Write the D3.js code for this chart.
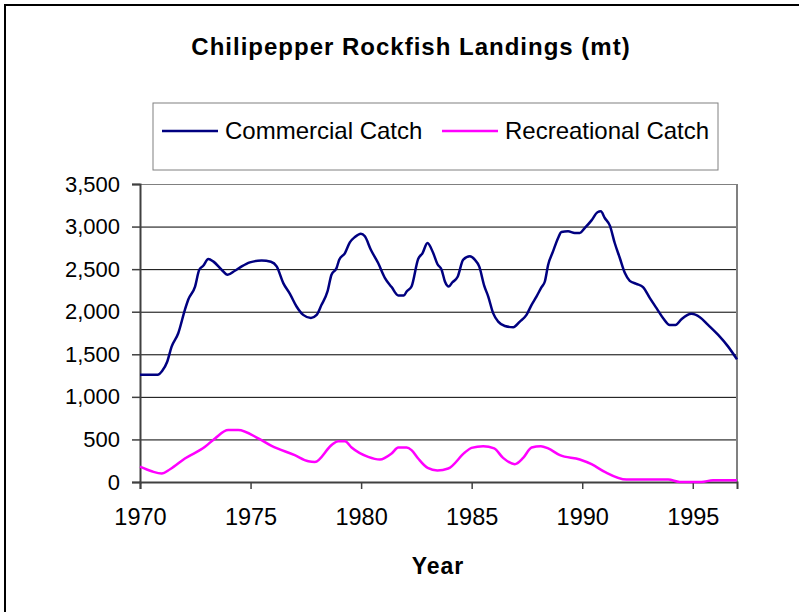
<!DOCTYPE html>
<html>
<head>
<meta charset="utf-8">
<script src="https://cdn.jsdelivr.net/npm/d3@7"></script>
<style>
  body { margin: 0; background: #fff; }
  text { font-family: 'Liberation Sans', Arial, sans-serif; }
</style>
</head>
<body>
<div id="chart"></div>
<script>
// values (metric tons)
const comYears = [1970, 1970.8, 1971.0, 1971.23, 1971.43, 1971.73, 1972.03, 1972.18, 1972.49, 1972.68,
  1972.86, 1973.09, 1973.31, 1973.69, 1973.96, 1974.29, 1974.6, 1974.97, 1975.5, 1975.92,
  1976.18, 1976.48, 1976.78, 1977.08, 1977.38, 1977.73, 1977.99, 1978.21, 1978.48, 1978.66,
  1978.89, 1979.01, 1979.27, 1979.49, 1979.72, 1979.99, 1980.17, 1980.44, 1980.77, 1981.08,
  1981.38, 1981.68, 1981.93, 1982.06, 1982.28, 1982.58, 1982.78, 1983.0, 1983.26, 1983.45,
  1983.64, 1983.79, 1983.97, 1984.12, 1984.36, 1984.62, 1984.92, 1985.14, 1985.34, 1985.57,
  1985.75, 1985.97, 1986.2, 1986.5, 1986.88, 1987.18, 1987.48, 1987.71, 1987.93, 1988.16,
  1988.31, 1988.46, 1988.68, 1988.91, 1989.06, 1989.36, 1989.66, 1989.89, 1990.12, 1990.42,
  1990.69, 1990.84, 1991.02, 1991.25, 1991.47, 1991.7, 1991.93, 1992.15, 1992.45, 1992.75,
  1993.06, 1993.36, 1993.66, 1993.96, 1994.22, 1994.49, 1994.94, 1995.32, 1995.69, 1996.15,
  1996.6, 1997]
const comCatch = [1260, 1260, 1304, 1413, 1590, 1747, 2022, 2140, 2296, 2493,
  2540, 2619, 2591, 2493, 2434, 2481, 2532, 2579, 2602, 2587,
  2532, 2336, 2210, 2061, 1963, 1927, 1963, 2081, 2238, 2434,
  2513, 2611, 2689, 2814, 2878, 2917, 2885, 2728, 2572, 2395,
  2289, 2190, 2190, 2238, 2296, 2619, 2689, 2807, 2689, 2560,
  2493, 2355, 2296, 2343, 2407, 2611, 2650, 2611, 2532, 2304,
  2178, 1983, 1884, 1833, 1818, 1884, 1963, 2081, 2178, 2289,
  2355, 2552, 2708, 2866, 2937, 2944, 2925, 2925, 2984, 3073,
  3168, 3179, 3101, 3011, 2807, 2631, 2454, 2363, 2328, 2289,
  2160, 2042, 1924, 1845, 1845, 1912, 1975, 1936, 1845, 1727,
  1590, 1440]

const recYears = [1970, 1970.53, 1970.98, 1971.36, 1972.03, 1972.94, 1973.39, 1973.99, 1974.44, 1975.35,
  1975.95, 1977.0, 1977.61, 1977.91, 1978.66, 1978.96, 1979.27, 1979.57, 1980.32, 1980.85,
  1981.38, 1981.68, 1982.06, 1982.28, 1982.58, 1983.01, 1983.45, 1983.94, 1984.69, 1984.99,
  1985.52, 1986.02, 1986.42, 1986.95, 1987.33, 1987.71, 1988.13, 1988.46, 1988.99, 1989.89,
  1990.42, 1991.02, 1992.0, 1993.89, 1994.41, 1995.39, 1995.91, 1997]
const recCatch = [180, 126, 99, 150, 276, 413, 512, 610, 610, 512,
  424, 315, 244, 236, 433, 480, 480, 405, 295, 264,
  335, 405, 405, 374, 276, 165, 135, 158, 346, 401,
  421, 394, 283, 209, 283, 405, 421, 394, 315, 264,
  209, 118, 28, 28, 0, 0, 20, 20]

const yTicks = [0, 500, 1000, 1500, 2000, 2500, 3000, 3500]
const xTicks = [1970, 1975, 1980, 1985, 1990, 1995]

const seriesNames = ['Commercial Catch', 'Recreational Catch']
const seriesColors = ['#000080', '#ff00ff']

const W = 799, H = 612
const plot = { left: 140, right: 737, top: 184, bottom: 482 }

const svg = d3.select('#chart').append('svg')
  .attr('width', W)
  .attr('height', H)

// outer chart frame
svg.append('rect')
  .attr('x', 5).attr('y', 5)
  .attr('width', 820).attr('height', 640)
  .attr('fill', '#fff')
  .attr('stroke', '#000')
  .attr('stroke-width', 2)

svg.append('text')
  .attr('x', 411).attr('y', 55)
  .attr('text-anchor', 'middle')
  .attr('font-size', 24)
  .attr('font-weight', 'bold')
  .attr('letter-spacing', 1)
  .text('Chilipepper Rockfish Landings (mt)')

const xScale = d3.scaleLinear().domain([1970, 1997]).range([plot.left, plot.right])
const yScale = d3.scaleLinear().domain([0, 3500]).range([plot.bottom, plot.top])

// gridlines
svg.append('g')
  .attr('transform', `translate(${plot.left},0)`)
  .call(d3.axisLeft(yScale).tickValues(yTicks.slice(1)).tickSize(-(plot.right - plot.left)).tickFormat(''))
  .call((g) => g.select('.domain').remove())
  .selectAll('line')
  .attr('stroke', (d) => (d === 3500 ? '#808080' : '#000'))
  .attr('stroke-width', 1)

// right border of plot area
svg.append('line')
  .attr('x1', plot.right).attr('x2', plot.right)
  .attr('y1', plot.top).attr('y2', plot.bottom)
  .attr('stroke', '#808080')
  .attr('stroke-width', 2)

// y axis
const yAxis = svg.append('g')
  .attr('transform', `translate(${plot.left},0)`)
  .call(d3.axisLeft(yScale).tickValues(yTicks).tickSize(8).tickPadding(12).tickFormat(d3.format(',')))
yAxis.select('.domain').attr('stroke', '#404040').attr('stroke-width', 2)
yAxis.selectAll('line').attr('stroke', '#404040').attr('stroke-width', 1.5)
yAxis.selectAll('text')
  .attr('font-size', 22)
  .attr('font-family', "'Liberation Sans', Arial, sans-serif")
  .attr('fill', '#000')

// x axis
const xAxis = svg.append('g')
  .attr('transform', `translate(0,${plot.bottom})`)
  .call(d3.axisBottom(xScale).tickValues(xTicks).tickSize(7).tickPadding(19).tickFormat(d3.format('d')))
xAxis.select('.domain').attr('stroke', '#404040').attr('stroke-width', 2)
xAxis.selectAll('line').attr('stroke', '#404040').attr('stroke-width', 1.5)
xAxis.selectAll('text')
  .attr('font-size', 23.5)
  .attr('font-family', "'Liberation Sans', Arial, sans-serif")
  .attr('fill', '#000')

svg.append('text')
  .attr('x', 438).attr('y', 574)
  .attr('text-anchor', 'middle')
  .attr('font-size', 23)
  .attr('font-weight', 'bold')
  .attr('letter-spacing', 1)
  .text('Year')

// lines
const makeLine = d3.line()
  .x((d) => xScale(d[0]))
  .y((d) => yScale(d[1]))
  .curve(d3.curveMonotoneX)

const series = [
  d3.zip(comYears, comCatch),
  d3.zip(recYears, recCatch)
]

svg.append('g')
  .selectAll('path')
  .data(series)
  .enter()
  .append('path')
  .attr('fill', 'none')
  .attr('stroke', (d, i) => seriesColors[i])
  .attr('stroke-width', 2.5)
  .attr('stroke-linejoin', 'round')
  .attr('d', makeLine)

// legend
const legend = svg.append('g')
legend.append('rect')
  .attr('x', 153).attr('y', 103)
  .attr('width', 565).attr('height', 67)
  .attr('fill', '#fff')
  .attr('stroke', '#808080')
  .attr('stroke-width', 1)

const legendX = [162, 442]
seriesNames.forEach((name, i) => {
  legend.append('line')
    .attr('x1', legendX[i]).attr('x2', legendX[i] + 56)
    .attr('y1', 131).attr('y2', 131)
    .attr('stroke', seriesColors[i])
    .attr('stroke-width', 2.5)
  legend.append('text')
    .attr('x', legendX[i] + 63).attr('y', 139)
    .attr('font-size', 24)
    .text(name)
})
</script>
</body>
</html>
